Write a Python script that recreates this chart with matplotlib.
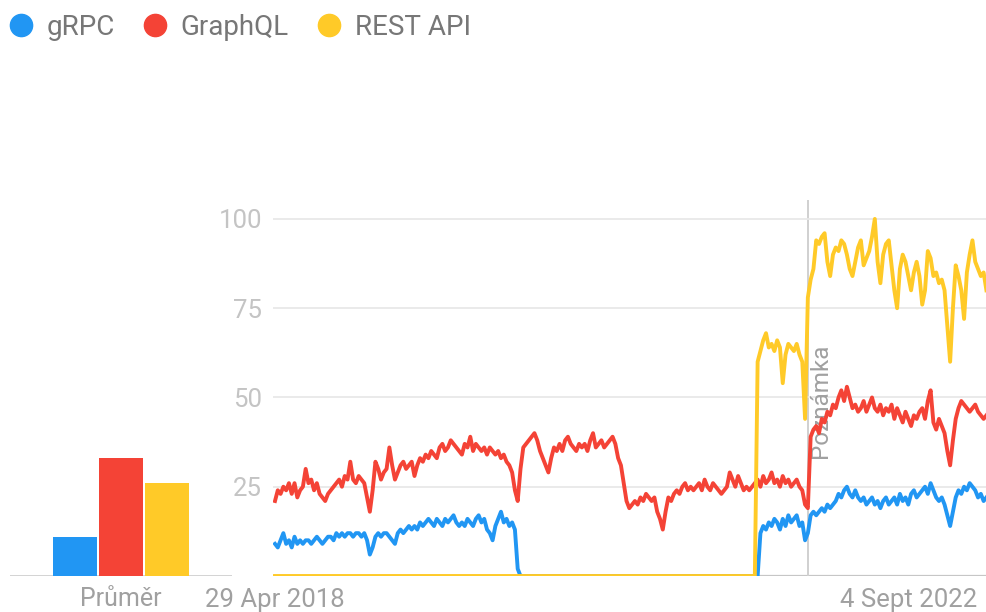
import matplotlib.pyplot as plt
from matplotlib.lines import Line2D
import pandas as pd

plt.rcParams['font.family'] = ['Roboto', 'DejaVu Sans']

series_names = ['gRPC', 'GraphQL', 'REST API']
colors = ['#2196f3', '#f44336', '#ffca28']
averages = [11, 33, 26]
avg_label = 'Průměr'

start_date = '2018-04-29'
note_date = '2021-12-26'
note_text = 'Poznámka'
tick_dates = ['2018-04-29', '2022-09-04']
tick_labels = ['29 Apr 2018', '4 Sept 2022']
y_ticks = [25, 50, 75, 100]

# weekly values
grpc = ([9, 8, 10, 12, 9, 10, 8, 11, 9, 10,
         9, 10, 10, 9, 10, 11, 10, 9, 10, 11,
         11, 10, 12, 11, 12, 11, 12, 12, 11, 12,
         12, 11, 12, 10, 6, 8, 11, 12, 11, 12,
         12, 11, 10, 9, 12, 13, 12, 13, 14, 13,
         14, 13, 15, 14, 15, 16, 15, 14, 16, 15,
         14, 16, 15, 16, 17, 15, 14, 15, 14, 16,
         15, 14, 16, 17, 15, 16, 13, 12, 10, 14,
         16, 18, 15, 16, 14, 15, 13, 2]
        + [0] * 86
        + [12, 14, 13, 15, 14, 16,
           15, 13, 16, 14, 17, 15, 16, 17, 14, 15,
           10, 12, 17, 18, 17, 18, 19, 18, 20, 19,
           20, 21, 23, 22, 24, 25, 23, 22, 24, 22,
           21, 22, 20, 21, 22, 20, 21, 19, 21, 22,
           20, 21, 22, 20, 23, 21, 22, 20, 23, 24,
           22, 23, 24, 25, 23, 26, 24, 22, 21, 22,
           20, 17, 14, 18, 22, 24, 23, 25, 24, 26,
           25, 24, 22, 23, 21, 22])

graphql = [21, 24, 23, 25, 24, 26, 23, 26, 22, 24,
           25, 30, 26, 27, 24, 26, 23, 22, 21, 23,
           24, 25, 26, 27, 25, 28, 27, 32, 27, 26,
           28, 27, 26, 22, 18, 24, 32, 30, 27, 29,
           30, 36, 31, 27, 29, 31, 32, 30, 31, 32,
           28, 31, 33, 32, 34, 33, 35, 34, 33, 36,
           37, 35, 36, 38, 37, 36, 35, 34, 37, 36,
           39, 35, 37, 36, 35, 36, 34, 36, 35, 34,
           35, 33, 34, 32, 31, 29, 24, 21, 30, 36,
           37, 38, 39, 40, 38, 35, 33, 31, 29, 33,
           36, 35, 37, 35, 38, 39, 37, 36, 35, 37,
           36, 37, 35, 38, 40, 36, 37, 38, 36, 37,
           38, 39, 37, 33, 31, 26, 21, 19, 20, 21,
           20, 22, 21, 23, 22, 21, 22, 18, 16, 13,
           18, 22, 21, 23, 24, 23, 25, 26, 24, 25,
           24, 25, 26, 24, 27, 25, 24, 26, 25, 24,
           23, 24, 25, 29, 27, 25, 28, 26, 24, 25,
           24, 25, 26, 27, 25, 28, 26, 27, 29, 26,
           27, 25, 28, 26, 27, 25, 26, 27, 25, 24,
           20, 19, 39, 41, 42, 40, 44, 43, 46, 45,
           48, 47, 50, 52, 49, 53, 50, 47, 48, 46,
           47, 49, 46, 48, 50, 47, 46, 48, 45, 47,
           46, 48, 44, 47, 45, 43, 46, 44, 42, 45,
           44, 46, 47, 44, 49, 52, 43, 41, 44, 42,
           40, 35, 31, 38, 44, 47, 49, 48, 47, 46,
           47, 48, 46, 45, 44, 45]

rest = ([0] * 173
        + [60, 63, 66, 68, 64, 65, 63,
           66, 64, 54, 62, 65, 64, 63, 65, 62, 60,
           44, 78, 83, 86, 94, 93, 95, 96, 88, 84,
           90, 92, 91, 94, 93, 90, 86, 84, 88, 92,
           94, 87, 89, 91, 95, 100, 88, 82, 90, 93,
           94, 87, 80, 75, 86, 90, 88, 84, 80, 85,
           88, 84, 76, 80, 91, 89, 84, 85, 82, 83,
           80, 70, 60, 75, 87, 84, 80, 72, 85, 90,
           94, 88, 86, 84, 85, 80])

weeks = pd.date_range(start_date, periods=len(graphql), freq='W-SUN')

fig = plt.figure(figsize=(9.87, 6.12), dpi=100)
W, H = 987, 612
bax = fig.add_axes([10 / W, 36 / H, 222 / W, 376 / H])
ax = fig.add_axes([273 / W, 36 / H, 714 / W, 376 / H])
bax.patch.set_visible(False)
ax.patch.set_visible(False)

ymax = 105.3
grid_c = '#e8e8e8'
base_c = '#c6c6c6'
text_c = '#a0a0a0'

# main line chart
for vals, c in zip([grpc, graphql, rest], colors):
    ax.plot(weeks, vals, color=c, lw=2.8, zorder=3, solid_joinstyle='round')

ax.set_ylim(0, ymax)
ax.set_xlim(weeks[0] - pd.Timedelta(days=5), weeks[-1] + pd.Timedelta(days=1.5))
ax.set_yticks(y_ticks)
ax.set_xticks(pd.to_datetime(tick_dates))
ax.set_xticklabels(tick_labels)
ax.tick_params(axis='y', length=0, pad=8, labelsize=18.5, labelcolor='#c4c4c4')
ax.tick_params(axis='x', length=0, pad=9, labelsize=18.5, labelcolor=text_c)
ax.grid(axis='y', color=grid_c, lw=1.3, zorder=0)
ax.axhline(0, color=base_c, lw=1.6, zorder=1)
for s in ax.spines.values():
    s.set_visible(False)

note = pd.Timestamp(note_date)
ax.axvline(note, color='#d0d0d0', lw=1.4, zorder=1)
ax.annotate(note_text, xy=(note, 49), xytext=(9, 0), textcoords='offset points',
            rotation=90, ha='center', va='center', fontsize=17.5, color=text_c, zorder=2)

# average bars
bax.bar(range(len(averages)), averages, width=0.957, color=colors, zorder=2)
bax.set_xlim(-1.413, 3.413)
bax.set_ylim(0, ymax)
bax.axhline(0, color=base_c, lw=1.8, zorder=1)
bax.set_xticks([1])
bax.set_xticklabels([avg_label])
bax.set_yticks([])
bax.tick_params(axis='x', length=0, pad=8, labelsize=18, labelcolor=text_c)
for s in bax.spines.values():
    s.set_visible(False)

handles = [Line2D([], [], ls='', marker='o', ms=16, color=c) for c in colors]
fig.legend(handles, series_names, loc='upper left', bbox_to_anchor=(0.0, 1 - 7 / H),
           ncol=3, frameon=False, fontsize=20, labelcolor='#777777',
           handlelength=1.0, handletextpad=0.43, columnspacing=0.94,
           borderaxespad=0.0, borderpad=0.25)

fig.savefig('out.png', dpi=100)
